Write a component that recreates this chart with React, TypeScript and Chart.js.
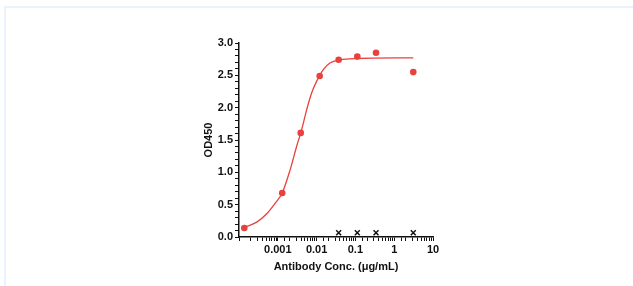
import React, { useEffect, useRef } from "react";
import { Chart, registerables } from "chart.js";

Chart.register(...registerables);

// Measured points (Antibody Conc. µg/mL vs OD450)
const conc = [0.000137, 0.0013, 0.0039, 0.012, 0.037, 0.112, 0.34, 3.1];
const od450 = [0.14, 0.68, 1.61, 2.49, 2.74, 2.79, 2.85, 2.55];

// Negative control (crosses)
const ctrlConc = [0.037, 0.112, 0.34, 3.1];
const ctrlOd = [0.065, 0.065, 0.065, 0.065];

// Fitted curve
const curveX = [0.000137, 0.000286, 0.000518, 0.000847, 0.0013, 0.00206, 0.00305, 0.00413, 0.00556, 0.00748, 0.01007, 0.0149, 0.0221, 0.0401, 0.108, 3.1];
const curveY = [0.15, 0.23, 0.36, 0.52, 0.68, 1.03, 1.40, 1.66, 1.97, 2.23, 2.41, 2.59, 2.69, 2.74, 2.76, 2.77];

// Tick labels
const xTickValues = [0.001, 0.01, 0.1, 1, 10];
const xTickLabels = ["0.001", "0.01", "0.1", "1", "10"];
const yTickValues = [0, 0.5, 1, 1.5, 2, 2.5, 3];
const yTickLabels = ["0.0", "0.5", "1.0", "1.5", "2.0", "2.5", "3.0"];

const RED = "#e8413e";
const FONT = "Arial, 'Liberation Sans', sans-serif";

export default function App() {
  const ref = useRef<HTMLCanvasElement | null>(null);

  useEffect(() => {
    if (!ref.current) return;
    const chart = new Chart(ref.current, {
      type: "scatter",
      data: {
        datasets: [
          {
            data: curveX.map((x, i) => ({ x, y: curveY[i] })),
            showLine: true,
            borderColor: RED,
            borderWidth: 1.3,
            pointRadius: 0,
            cubicInterpolationMode: "monotone",
            fill: false,
          },
          {
            data: conc.map((x, i) => ({ x, y: od450[i] })),
            showLine: false,
            pointRadius: 3.3,
            pointBackgroundColor: RED,
            pointBorderColor: RED,
            pointBorderWidth: 0,
          },
          {
            data: ctrlConc.map((x, i) => ({ x, y: ctrlOd[i] })),
            showLine: false,
            pointStyle: "crossRot",
            pointRadius: 3.5,
            pointBorderColor: "#111",
            pointBorderWidth: 1.5,
          },
        ],
      },
      options: {
        animation: false,
        responsive: false,
        maintainAspectRatio: false,
        layout: { padding: { left: 195, right: 200, top: 43, bottom: 0 } },
        plugins: { legend: { display: false }, tooltip: { enabled: false } },
        scales: {
          x: {
            type: "logarithmic",
            min: 0.0001,
            max: 10,
            afterFit: (s: any) => {
              s.height = 49;
            },
            border: { display: true, color: "#111", width: 1.5 },
            grid: {
              display: true,
              drawOnChartArea: false,
              drawTicks: true,
              tickLength: 4,
              tickColor: "#111",
              tickWidth: 1,
            },
            ticks: {
              autoSkip: false,
              maxRotation: 0,
              padding: 2,
              color: "#111",
              font: { family: FONT, size: 11, weight: "bold" },
              callback: (v: any) => {
                const i = xTickValues.findIndex((t) => Math.abs(Math.log10(Number(v)) - Math.log10(t)) < 1e-6);
                return i >= 0 ? xTickLabels[i] : "";
              },
            },
            title: {
              display: true,
              text: "Antibody Conc. (μg/mL)",
              color: "#111",
              font: { family: FONT, size: 11, weight: "bold" },
              padding: { top: 0, bottom: 12 },
            },
          },
          y: {
            type: "linear",
            min: 0,
            max: 3,
            afterFit: (s: any) => {
              s.width = 44;
            },
            border: { display: true, color: "#111", width: 1.5 },
            grid: {
              display: true,
              drawOnChartArea: false,
              drawTicks: true,
              tickLength: 4,
              tickColor: "#111",
              tickWidth: 1,
            },
            ticks: {
              stepSize: 0.1,
              autoSkip: false,
              padding: 2,
              color: "#111",
              font: { family: FONT, size: 11, weight: "bold" },
              callback: (v: any) => {
                const i = yTickValues.findIndex((t) => Math.abs(Number(v) - t) < 1e-6);
                return i >= 0 ? yTickLabels[i] : "";
              },
            },
            title: {
              display: true,
              text: "OD450",
              color: "#111",
              font: { family: FONT, size: 11, weight: "bold" },
              padding: { top: 7, bottom: 0 },
            },
          },
        },
      },
    });
    return () => chart.destroy();
  }, []);

  return (
    <div style={{ position: "absolute", left: 0, top: 0, width: 633, height: 286, background: "#fff", overflow: "hidden" }}>
      <div
        style={{
          position: "absolute",
          left: 4,
          top: 6,
          right: 0,
          bottom: 0,
          borderTop: "2px solid #eaf3fd",
          borderLeft: "2px solid #eaf3fd",
        }}
      />
      <canvas ref={ref} width={633} height={286} style={{ position: "absolute", left: 0, top: 0, width: 633, height: 286 }} />
    </div>
  );
}
